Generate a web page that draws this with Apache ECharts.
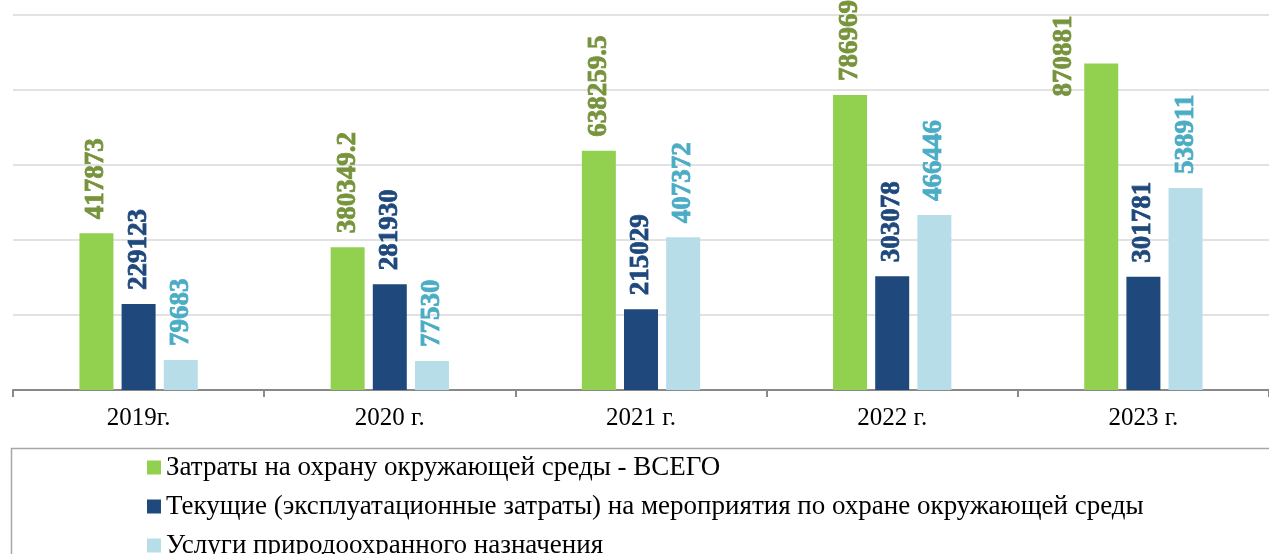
<!DOCTYPE html>
<html>
<head>
<meta charset="utf-8">
<script src="https://cdn.jsdelivr.net/npm/echarts@6/dist/echarts.min.js"></script>
<style>
  html, body { margin: 0; padding: 0; background: #fff; }
  #chart { width: 1269px; height: 554px; }
</style>
</head>
<body>
<div id="chart"></div>
<script>
const years = ['2019г.', '2020 г.', '2021 г.', '2022 г.', '2023 г.']
const seriesNames = [
  'Затраты на охрану окружающей среды - ВСЕГО',
  'Текущие (эксплуатационные затраты) на мероприятия по охране окружающей среды',
  'Услуги природоохранного назначения',
]
const totalCosts = [417873, 380349.2, 638259.5, 786969, 870881]
const currentCosts = [229123, 281930, 215029, 303078, 301781]
const serviceCosts = [79683, 77530, 407372, 466446, 538911]

const barColors = ['#92d050', '#1f497d', '#b7dde8']
const labelColors = ['#77933c', '#1f497d', '#4bacc6']
const SERIF = '"Liberation Serif", "Times New Roman", serif'

const chart = echarts.init(document.getElementById('chart'), null, { renderer: 'canvas' })

const makeSeries = (name, values, i) => ({
  name,
  type: 'bar',
  barWidth: 34,
  barGap: '24%',
  color: barColors[i],
  data: values.map((v, j) => {
    // Excel pushed the last green label to the left of its bar
    if (i === 0 && j === values.length - 1) {
      return { value: v, label: { position: [-20, 33], distance: 0 } }
    }
    return v
  }),
  label: {
    show: true,
    position: 'top',
    rotate: 90,
    align: 'left',
    verticalAlign: 'middle',
    distance: 14,
    color: labelColors[i],
    fontFamily: SERIF,
    fontWeight: 700,
    fontSize: 27,
    textBorderColor: labelColors[i],
    textBorderWidth: 0.8,
  },
})

// one legend per row so that they stack like in the original
const legends = seriesNames.map((name, i) => ({
  left: 147,
  top: 454 + i * 39,
  padding: 0,
  itemWidth: 14,
  itemHeight: 14,
  icon: 'rect',
  data: [name],
  textStyle: { fontFamily: SERIF, fontSize: 27, color: '#000' },
}))

const option = {
  animation: false,
  grid: { left: 13, right: -10, top: 15, bottom: 164, containLabel: false },
  legend: legends,
  graphic: [{
    type: 'rect',
    left: 9,
    top: 446,
    shape: { width: 1300, height: 200 },
    style: { fill: 'none', stroke: '#a6a6a6', lineWidth: 1.5 },
    silent: true,
    z: -1,
  }],
  xAxis: {
    type: 'category',
    data: years,
    axisLine: { lineStyle: { color: '#898989', width: 2 } },
    axisTick: { show: true, length: 7, lineStyle: { color: '#898989', width: 2 } },
    axisLabel: { color: '#000', fontFamily: SERIF, fontSize: 25, margin: 16 },
  },
  yAxis: {
    type: 'value',
    min: 0,
    max: 1000000,
    interval: 200000,
    axisLine: { show: false },
    axisTick: { show: false },
    axisLabel: { show: false },
    splitLine: { lineStyle: { color: '#d9d9d9', width: 1.5 } },
  },
  series: [
    makeSeries(seriesNames[0], totalCosts, 0),
    makeSeries(seriesNames[1], currentCosts, 1),
    makeSeries(seriesNames[2], serviceCosts, 2),
  ],
}

chart.setOption(option)
</script>
</body>
</html>
